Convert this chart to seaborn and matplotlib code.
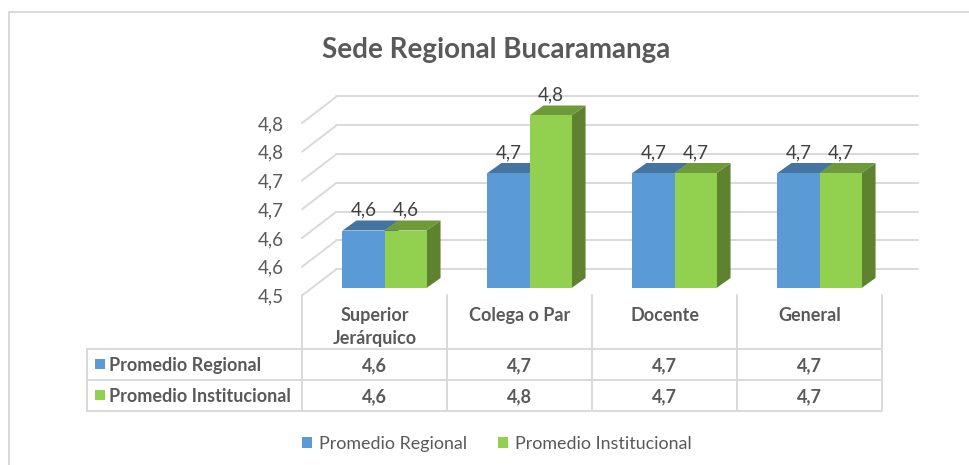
import matplotlib
matplotlib.use("Agg")
import matplotlib.pyplot as plt
from matplotlib.lines import Line2D
from matplotlib.patches import Patch, Polygon, Rectangle
import pandas as pd
import seaborn as sns

categories = ["Superior\nJerárquico", "Colega o Par", "Docente", "General"]
regional = [4.6, 4.7, 4.7, 4.7]
institucional = [4.6, 4.8, 4.7, 4.7]
series_names = ["Promedio Regional", "Promedio Institucional"]
y_ticks = [4.5, 4.55, 4.6, 4.65, 4.7, 4.75, 4.8]
y_labels = ["4,5", "4,6", "4,6", "4,7", "4,7", "4,8", "4,8"]

BLUE, GREEN = "#5B9BD5", "#92D050"
BLUE_TOP, GREEN_TOP = "#44749F", "#6E9A3A"
BLUE_SIDE, GREEN_SIDE = "#44749F", "#5E822F"
GRID = "#D9D9D9"
TXT = "#595959"
LBL = "#404040"

sns.set_theme(style="white")
plt.rcParams["font.family"] = ["Lato", "DejaVu Sans"]

W, H = 970, 465
fig = plt.figure(figsize=(W / 100, H / 100), dpi=100, facecolor="white")


def px_axes(l, t, r, b):
    a = fig.add_axes([l / W, 1 - b / H, (r - l) / W, (b - t) / H], facecolor="none")
    a.set_xlim(-0.5, 3.5)
    a.set_ylim(4.5, 4.8)
    for s in a.spines.values():
        s.set_visible(False)
    return a


def fx(x):
    return x / W


def fy(y):
    return 1 - y / H


# outer frame
for xs, ys in [((9, 9), (12, 465)), ((9, 970), (12, 12))]:
    fig.add_artist(Line2D([fx(v) for v in xs], [fy(v) for v in ys], color=GRID, lw=1.4))

# back wall
back = px_axes(336, 96.5, 918, 269)
back.set_xticks([])
back.set_yticks(y_ticks)
back.tick_params(left=False, labelleft=False)
back.grid(axis="y", color=GRID, lw=1.4)
for g in back.get_ygridlines():
    g.set_clip_on(False)

# front plane: value axis, category labels and left wall
main = px_axes(302, 123, 882, 295.5)
main.set_yticks(y_ticks)
main.set_yticklabels(y_labels, fontsize=13.5, color=TXT)
main.tick_params(axis="y", length=0, pad=13)
main.set_xticks(range(len(categories)))
main.set_xticklabels(categories, fontsize=13, fontweight="bold", color=TXT, linespacing=1.4)
main.tick_params(axis="x", length=0, pad=8.5)
wall_dx = 34 / 145
wall_dy = 26 * 0.3 / 172.5
for t in y_ticks:
    main.plot([-0.5, -0.5 + wall_dx], [t, t + wall_dy], color=GRID, lw=1.4, clip_on=False)

# bars
bars_ax = px_axes(312, 115.5, 892, 288)
df = pd.DataFrame({
    "cat": categories * 2,
    "val": regional + institucional,
    "serie": [series_names[0]] * 4 + [series_names[1]] * 4,
})
sns.barplot(data=df, x="cat", y="val", hue="serie", hue_order=series_names,
            palette=[BLUE, GREEN], width=0.58, gap=0, saturation=1, linewidth=0,
            legend=False, ax=bars_ax, zorder=5)
bars_ax.set_xlim(-0.5, 3.5)
bars_ax.set_ylim(4.5, 4.8)
bars_ax.axis("off")
ddx = 14 / 145
ddy = 10 * 0.3 / 172.5
n = len(categories)
for i, rect in enumerate(bars_ax.patches[:2 * n]):
    rect.set_edgecolor("none")
    x0, w, top = rect.get_x(), rect.get_width(), rect.get_height()
    is_blue = i < n
    bars_ax.add_patch(Polygon([(x0 + w, 4.5), (x0 + w + ddx, 4.5 + ddy), (x0 + w + ddx, top + ddy), (x0 + w, top)],
                              facecolor=BLUE_SIDE if is_blue else GREEN_SIDE, lw=0, zorder=2 + i / 100, clip_on=False))
    bars_ax.add_patch(Polygon([(x0, top), (x0 + w, top), (x0 + w + ddx, top + ddy), (x0 + ddx, top + ddy)],
                              facecolor=BLUE_TOP if is_blue else GREEN_TOP, lw=0, zorder=2 + i / 100, clip_on=False))
    val = regional[i] if is_blue else institucional[i - n]
    bars_ax.annotate(f"{val:.1f}".replace(".", ","), (x0 + w / 2, top), xytext=(0, 12), textcoords="offset pixels",
                     ha="center", va="bottom", fontsize=13.5, color=LBL, annotation_clip=False, zorder=8)

# data table
for y in (349, 380, 411):
    fig.add_artist(Line2D([fx(87), fx(882)], [fy(y), fy(y)], color=GRID, lw=1.4))
fig.add_artist(Line2D([fx(87), fx(87)], [fy(349), fy(411)], color=GRID, lw=1.4))
for x in (302, 447, 592, 737, 882):
    fig.add_artist(Line2D([fx(x), fx(x)], [fy(295), fy(411)], color=GRID, lw=1.4))
for name, vals, col, yc in zip(series_names, (regional, institucional), (BLUE, GREEN), (364, 395)):
    fig.add_artist(Rectangle((fx(95), fy(yc + 5)), 10 / W, 10 / H, transform=fig.transFigure, facecolor=col, lw=0))
    fig.text(fx(109), fy(yc), name, fontsize=13, fontweight="bold", color=TXT, ha="left", va="center_baseline")
    for xc, v in zip((374.5, 519.5, 664.5, 809.5), vals):
        fig.text(fx(xc), fy(yc), f"{v:.1f}".replace(".", ","), fontsize=13, fontweight="bold",
                 color=TXT, ha="center", va="center_baseline")

fig.text(fx(496.5), fy(47.5), "Sede Regional Bucaramanga", fontsize=20, fontweight="bold", color=TXT,
         ha="center", va="center_baseline")

handles = [Patch(facecolor=BLUE, lw=0), Patch(facecolor=GREEN, lw=0)]
fig.legend(handles, series_names, loc="center", bbox_to_anchor=(fx(497), fy(444)), ncol=2, frameon=False,
           fontsize=12.9, labelcolor=TXT, handlelength=0.55, handleheight=0.6, handletextpad=0.4,
           columnspacing=1.7, borderpad=0)

fig.savefig("out.png", dpi=100, facecolor="white")
